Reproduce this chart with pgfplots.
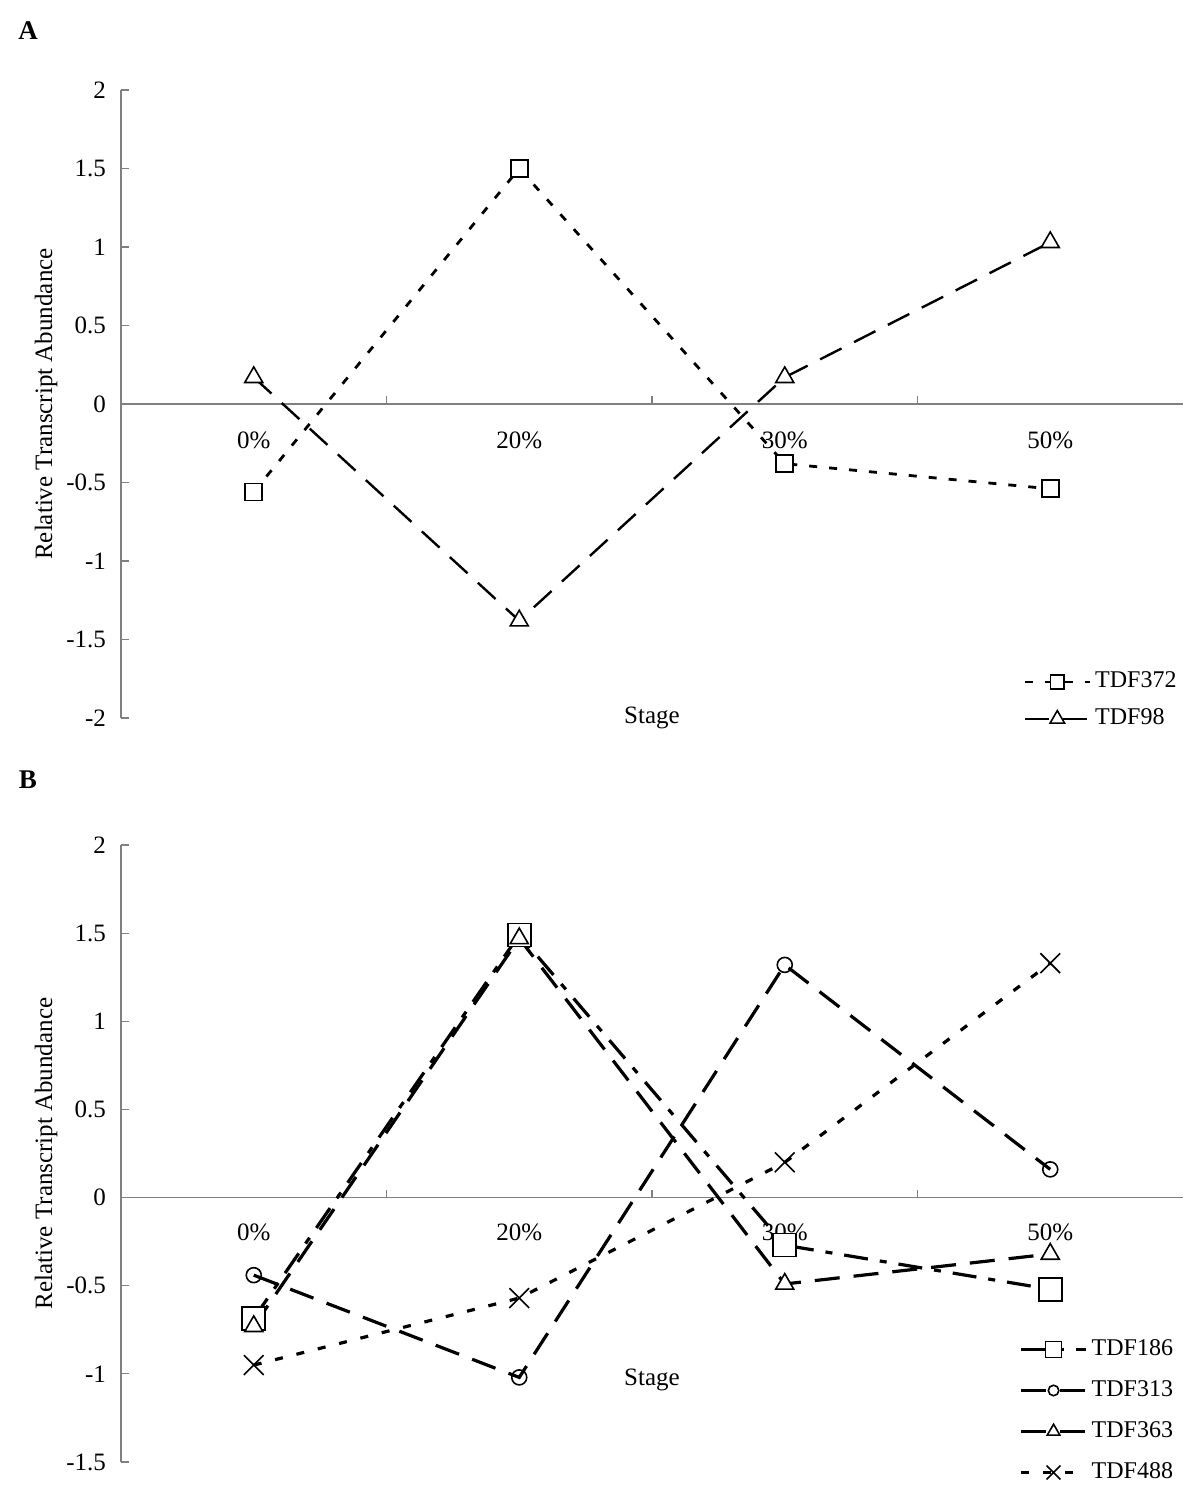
\documentclass[border=0pt]{standalone}
\usepackage{pgfplots}
\pgfplotsset{compat=1.18}
\usepackage{fontspec}
\setmainfont{Liberation Serif}
\begin{document}
\begin{tikzpicture}
\path (0,0) rectangle (600pt,-748pt);
\node[font=\fontsize{13.5pt}{16pt}\selectfont\bfseries] at (14pt,-15.5pt) {A};
\node[font=\fontsize{13.5pt}{16pt}\selectfont\bfseries] at (14pt,-390pt) {B};
\pgfplotsset{
  mystyle/.style={
    scale only axis, width=531pt, xmin=0, xmax=4,
    axis y line=left, axis x line=middle,
    axis line style={-, draw=gray, line width=0.6pt},
    tick style={draw=gray, line width=0.6pt},
    major tick length=4pt,
    tick align=inside,
    xtick={1,2,3}, xticklabels={},
    ticklabel style={font=\fontsize{12.5pt}{14pt}\selectfont},
    yticklabel style={xshift=-4pt},
    /pgf/number format/assume math mode=true,
    label style={font=\fontsize{12.5pt}{14pt}\selectfont},
    ylabel={Relative Transcript Abundance},
    xlabel={Stage},
    clip=false,
    legend cell align=left,
  },
}
% ---------- Panel A ----------
\begin{axis}[mystyle,
  at={(60.5pt,-359pt)}, anchor=south west, height=314pt,
  ymin=-2, ymax=2,
  ytick={-2,-1.5,-1,-0.5,0,0.5,1,1.5,2},
  yticklabels={-2,-1.5,-1,-0.5,0,0.5,1,1.5,2},
  ylabel style={at={(axis description cs:-0.0706,0.5)}, anchor=center},
  xlabel style={at={(axis description cs:0.5,0.0)}, anchor=center},
  legend image code/.code={\draw[mark repeat=2,mark phase=2, every mark/.append style={scale=0.8}] plot coordinates {(0pt,0pt) (16.25pt,0pt) (32.5pt,0pt)};},
  legend style={at={(axis description cs:0.8437,0.028)}, anchor=west, draw=none, fill=none,
    font=\fontsize{12pt}{14pt}\selectfont, row sep=2.5pt,
    nodes={inner sep=2pt, text height=9pt, text depth=3pt}},
]
\addplot[black, line width=1.4pt, dash pattern=on 4pt off 6pt,
  mark=square*, mark size=4.25pt, mark options={solid, fill=white, line width=0.8pt}]
  coordinates {(0.5,-0.56) (1.5,1.50) (2.5,-0.38) (3.5,-0.54)};
\addlegendentry{TDF372}
\addplot[black, line width=1.2pt, dash pattern=on 12pt off 7pt,
  mark=triangle*, mark size=5.2pt, mark options={solid, fill=white, line width=0.8pt}]
  coordinates {(0.5,0.17) (1.5,-1.38) (2.5,0.17) (3.5,1.03)};
\addlegendentry{TDF98}
\node[font=\fontsize{12.5pt}{14pt}\selectfont] at (axis cs:0.5,0) [yshift=-18pt] {0\%};
\node[font=\fontsize{12.5pt}{14pt}\selectfont] at (axis cs:1.5,0) [yshift=-18pt] {20\%};
\node[font=\fontsize{12.5pt}{14pt}\selectfont] at (axis cs:2.5,0) [yshift=-18pt] {30\%};
\node[font=\fontsize{12.5pt}{14pt}\selectfont] at (axis cs:3.5,0) [yshift=-18pt] {50\%};
\end{axis}
% ---------- Panel B ----------
\begin{axis}[mystyle,
  at={(60.5pt,-731pt)}, anchor=south west, height=308.5pt,
  ymin=-1.5, ymax=2,
  ytick={-1.5,-1,-0.5,0,0.5,1,1.5,2},
  yticklabels={-1.5,-1,-0.5,0,0.5,1,1.5,2},
  ylabel style={at={(axis description cs:-0.0706,0.5)}, anchor=center},
  xlabel style={at={(axis description cs:0.5,0.133)}, anchor=center},
  legend image code/.code={\draw[mark repeat=2,mark phase=2, every mark/.append style={scale=0.7}] plot coordinates {(0pt,0pt) (16.25pt,0pt) (32.5pt,0pt)};},
  legend style={at={(axis description cs:0.84,0.0827)}, anchor=west, draw=none, fill=none,
    font=\fontsize{12pt}{14pt}\selectfont, row sep=4.5pt,
    nodes={inner sep=2pt, text height=9pt, text depth=3pt}},
]
\addplot[black, line width=1.6pt, dash pattern=on 12pt off 6pt on 3.5pt off 6pt,
  mark=square*, mark size=5.75pt, mark options={solid, fill=white, line width=0.8pt}]
  coordinates {(0.5,-0.685) (1.5,1.49) (2.5,-0.27) (3.5,-0.52)};
\addlegendentry{TDF186}
\addplot[black, line width=1.6pt, dash pattern=on 12.5pt off 7pt,
  mark=o, mark size=3.75pt, mark options={solid, fill=white, line width=0.8pt}]
  coordinates {(0.5,-0.44) (1.5,-1.02) (2.5,1.32) (3.5,0.16)};
\addlegendentry{TDF313}
\addplot[black, line width=1.6pt, dash pattern=on 12.5pt off 7pt,
  mark=triangle*, mark size=5.2pt, mark options={solid, fill=white, line width=0.8pt}]
  coordinates {(0.5,-0.73) (1.5,1.47) (2.5,-0.49) (3.5,-0.32)};
\addlegendentry{TDF363}
\addplot[black, line width=1.6pt, dash pattern=on 4pt off 7pt,
  mark=x, mark size=7pt, mark options={solid, line width=0.8pt}]
  coordinates {(0.5,-0.95) (1.5,-0.57) (2.5,0.20) (3.5,1.33)};
\addlegendentry{TDF488}
\node[font=\fontsize{12.5pt}{14pt}\selectfont] at (axis cs:0.5,0) [yshift=-17.5pt] {0\%};
\node[font=\fontsize{12.5pt}{14pt}\selectfont] at (axis cs:1.5,0) [yshift=-17.5pt] {20\%};
\node[font=\fontsize{12.5pt}{14pt}\selectfont] at (axis cs:2.5,0) [yshift=-17.5pt] {30\%};
\node[font=\fontsize{12.5pt}{14pt}\selectfont] at (axis cs:3.5,0) [yshift=-17.5pt] {50\%};
\end{axis}
\end{tikzpicture}
\end{document}
